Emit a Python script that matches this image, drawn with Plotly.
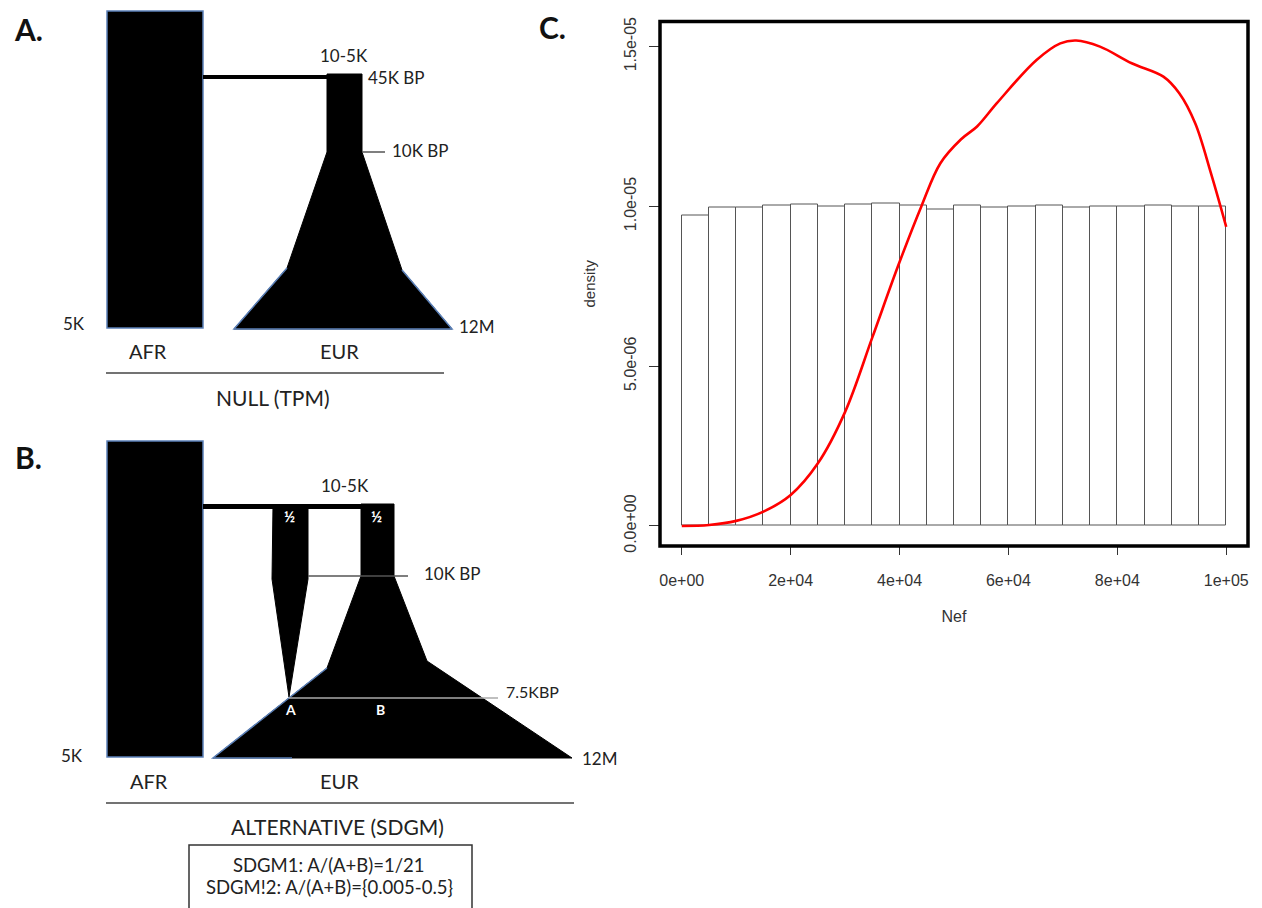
import plotly.graph_objects as go

# ---------------- Panel C data ----------------
BIN_START = [0, 5000, 10000, 15000, 20000, 25000, 30000, 35000, 40000, 45000,
             50000, 55000, 60000, 65000, 70000, 75000, 80000, 85000, 90000, 95000]
BIN_DENSITY = [9.70e-6, 9.95e-6, 9.95e-6, 10.02e-6, 10.05e-6, 10.00e-6, 10.05e-6, 10.10e-6, 10.04e-6, 9.91e-6,
               10.04e-6, 9.96e-6, 10.00e-6, 10.04e-6, 9.96e-6, 10.00e-6, 10.00e-6, 10.04e-6, 10.00e-6, 10.00e-6]
CURVE_NEF = [0, 5000, 10000, 15000, 20000, 25000, 30000, 35000, 39670, 44000, 47500, 51300, 54240,
             57870, 65160, 69530, 72440, 76810, 82640, 88460, 91380, 94300, 97190, 100000]
CURVE_DENSITY = [0, 0.03e-6, 0.16e-6, 0.45e-6, 0.97e-6, 1.96e-6, 3.57e-6, 5.9e-6, 8.11e-6, 10.0e-6,
                 11.35e-6, 12.1e-6, 12.5e-6, 13.23e-6, 14.58e-6, 15.10e-6, 15.19e-6, 15.0e-6, 14.48e-6,
                 14.06e-6, 13.54e-6, 12.6e-6, 11.04e-6, 9.36e-6]
X_TICKS = [0, 20000, 40000, 60000, 80000, 100000]
X_TICK_LABELS = ["0e+00", "2e+04", "4e+04", "6e+04", "8e+04", "1e+05"]
Y_TICKS = [0, 5e-6, 1e-5, 1.5e-5]
Y_TICK_LABELS = ["0.0e+00", "5.0e-06", "1.0e-05", "1.5e-05"]

# ---------------- Panels A / B schematic geometry (pixel space) ----------------
A_AFR = [(107, 11), (203, 11), (203, 328), (107, 328)]
A_EUR = [(327, 74), (362, 74), (362, 152), (402, 270), (452, 329), (234, 329), (287, 268), (327, 152)]
A_EUR_BLUE = [(287, 268), (234, 329), (452, 329), (402, 270)]
A_LINK = [(203, 77), (329, 77)]
A_10K = [(362, 152), (385, 152)]
A_BASE = [(106, 373), (444, 373)]

B_AFR = [(107, 441), (203, 441), (203, 757), (107, 757)]
B_COL1 = [(273, 506), (308, 506), (308, 579), (289, 697), (272, 579)]
B_EUR = [(361, 504), (394, 504), (394, 576), (427, 661), (572, 758), (213, 758), (327, 668), (361, 576)]
B_EUR_BLUE = [(327, 668), (213, 758), (292, 758)]
B_LINK = [(203, 506.5), (394, 506.5)]
B_10K = [(308, 576), (408, 576)]
B_75K = [(289, 698), (498, 698)]
B_BASE = [(106, 803), (574, 803)]
B_BOX = [(189, 845), (472, 915)]

TEXT_LABELS = [
    # (text, x, y, size, bold, color)
    ("A.", 28, 29, 30, True, "#111"),
    ("10-5K", 344, 55, 17, False, "#222"),
    ("45K BP", 396, 77, 17, False, "#222"),
    ("10K BP", 420, 150, 17, False, "#222"),
    ("5K", 74, 323, 17, False, "#222"),
    ("12M", 477, 326, 17, False, "#222"),
    ("AFR", 148, 351, 20, False, "#222"),
    ("EUR", 339, 351, 20, False, "#222"),
    ("NULL (TPM)", 273, 397, 21, False, "#222"),
    ("B.", 28, 457, 30, True, "#111"),
    ("10-5K", 345, 485, 17, False, "#222"),
    ("½", 289, 516, 15, True, "white"),
    ("½", 376, 516, 15, True, "white"),
    ("10K BP", 452, 573, 17, False, "#222"),
    ("7.5KBP", 532, 691, 16, False, "#222"),
    ("A", 290, 709, 14, True, "white"),
    ("B", 380, 709, 14, True, "white"),
    ("5K", 72, 755, 17, False, "#222"),
    ("12M", 600, 758, 17, False, "#222"),
    ("AFR", 149, 781, 20, False, "#222"),
    ("EUR", 339, 781, 20, False, "#222"),
    ("ALTERNATIVE (SDGM)", 337, 826, 21, False, "#222"),
    ("SDGM1: A/(A+B)=1/21", 329, 865, 18.5, False, "#222"),
    ("SDGM!2: A/(A+B)={0.005-0.5}", 329, 887, 18.5, False, "#222"),
    ("C.", 552, 27, 30, True, "#111"),
]

W, H = 1262, 908
DIAG_FONT = "Lato"
PLOT_FONT = "Liberation Sans"


def path_of(points, closed=True):
    s = "M " + " L ".join(f"{x},{y}" for x, y in points)
    return s + (" Z" if closed else "")


fig = go.Figure()

# invisible anchor trace for schematic axis
fig.add_trace(go.Scatter(x=[], y=[], xaxis="x", yaxis="y", showlegend=False, hoverinfo="skip"))

# histogram bars
fig.add_trace(go.Bar(
    x=BIN_START, y=BIN_DENSITY, width=5000, offset=0,
    marker=dict(color="white", line=dict(color="#555555", width=1)),
    xaxis="x2", yaxis="y2", showlegend=False,
))
# density curve
fig.add_trace(go.Scatter(
    x=CURVE_NEF, y=CURVE_DENSITY, mode="lines",
    line=dict(color="#ff0000", width=2.6, shape="spline", smoothing=1.0),
    xaxis="x2", yaxis="y2", showlegend=False,
))

shapes = []
BLUE = "#5b80b8"


def poly(points, fill="black", line_color="black", lw=1):
    shapes.append(dict(type="path", xref="x", yref="y", path=path_of(points),
                       fillcolor=fill, line=dict(color=line_color, width=lw), layer="above"))


def polyline(points, color, lw):
    shapes.append(dict(type="path", xref="x", yref="y", path=path_of(points, closed=False),
                       line=dict(color=color, width=lw), layer="above"))


# Panel A
poly(A_AFR, line_color=BLUE, lw=1.5)
polyline(A_LINK, "black", 4)
poly(A_EUR, lw=1)
polyline(A_EUR_BLUE, BLUE, 1.5)
polyline(A_10K, "#555555", 1.5)
polyline(A_BASE, "#444444", 1.5)

# Panel B
poly(B_AFR, line_color=BLUE, lw=1.5)
polyline(B_LINK, "black", 5)
poly(B_COL1, lw=1)
poly(B_EUR, lw=1)
polyline(B_EUR_BLUE, BLUE, 1.5)
polyline(B_10K, "#555555", 1.5)
polyline(B_75K, "#aaaaaa", 1.5)
polyline(B_BASE, "#444444", 1.5)
shapes.append(dict(type="rect", xref="x", yref="y", x0=B_BOX[0][0], y0=B_BOX[0][1],
                   x1=B_BOX[1][0], y1=B_BOX[1][1], line=dict(color="#333333", width=1.5),
                   fillcolor="rgba(0,0,0,0)", layer="above"))

# Panel C frame
shapes.append(dict(type="rect", xref="x2 domain", yref="y2 domain", x0=0, x1=1, y0=0, y1=1,
                   line=dict(color="black", width=3.5), fillcolor="rgba(0,0,0,0)", layer="above"))

annotations = []
for text, x, y, size, bold, color in TEXT_LABELS:
    annotations.append(dict(
        x=x, y=y, xref="x", yref="y", text=f"<b>{text}</b>" if bold else text,
        showarrow=False, xanchor="center", yanchor="middle",
        font=dict(family=DIAG_FONT, size=size, color=color),
    ))

fig.update_layout(
    template="none",
    width=W, height=H, autosize=False,
    margin=dict(l=0, r=0, t=0, b=0, pad=0, autoexpand=False),
    paper_bgcolor="white", plot_bgcolor="rgba(0,0,0,0)",
    showlegend=False, bargap=0,
    xaxis=dict(domain=[0, 1], range=[0, W], visible=False, fixedrange=True, automargin=False),
    yaxis=dict(domain=[0, 1], range=[H, 0], visible=False, fixedrange=True, automargin=False),
    xaxis2=dict(
        domain=[660 / W, 1248 / W], range=[-4000, 104000], anchor="y2", automargin=False,
        tickmode="array", tickvals=X_TICKS, ticktext=X_TICK_LABELS,
        ticks="outside", ticklen=8, tickwidth=1, tickcolor="#333",
        showgrid=False, zeroline=False, showline=False,
        tickfont=dict(family=PLOT_FONT, size=16, color="#333"),
        ticklabelstandoff=12,
        title=dict(text="Nef", font=dict(family=PLOT_FONT, size=16, color="#333"), standoff=22),
    ),
    yaxis2=dict(
        domain=[(H - 546) / H, (H - 21.5) / H], range=[-6.26e-7, 1.5785e-5], anchor="x2",
        automargin=False,
        tickmode="array", tickvals=Y_TICKS, ticktext=Y_TICK_LABELS, tickangle=-90,
        ticks="outside", ticklen=10, tickwidth=1, tickcolor="#333",
        showgrid=False, zeroline=False, showline=False,
        tickfont=dict(family=PLOT_FONT, size=16, color="#333"),
        ticklabelstandoff=7,
        title=dict(text="density", font=dict(family=PLOT_FONT, size=15, color="#333"), standoff=22),
    ),
    shapes=shapes,
    annotations=annotations,
)

fig.write_html("out.html", config={"displayModeBar": False},
               post_script="document.body.style.margin='0px';")
